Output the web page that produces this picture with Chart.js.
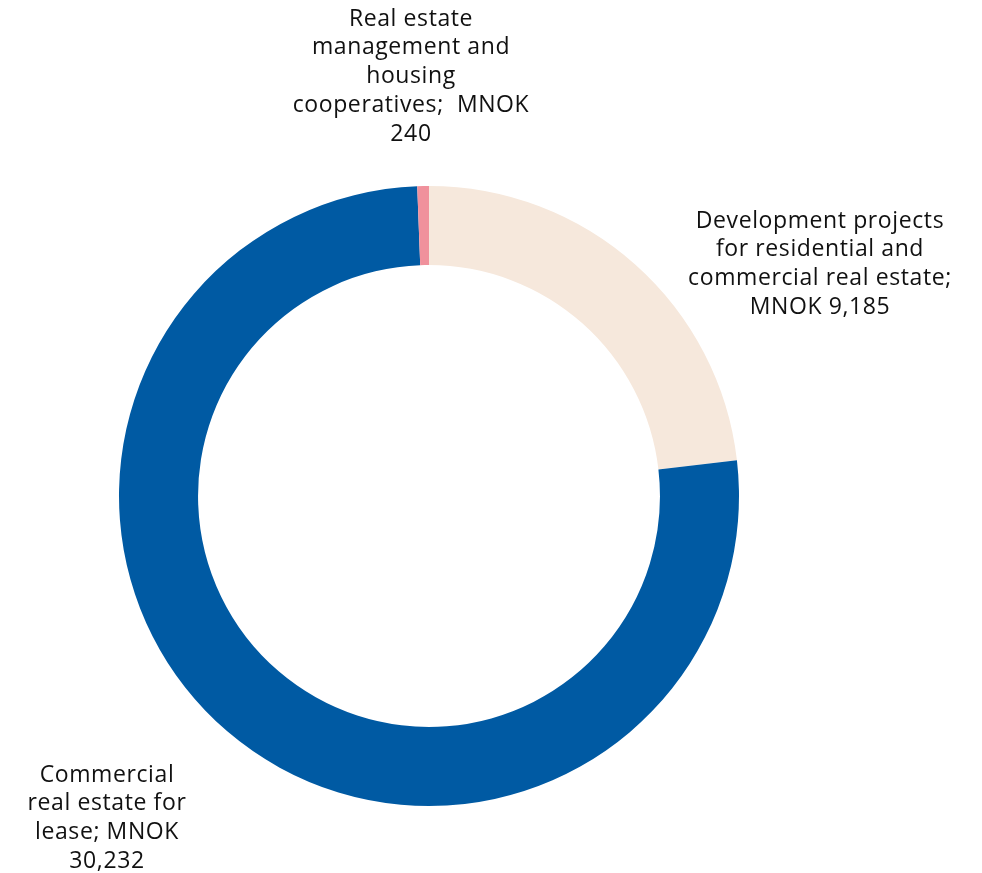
<!DOCTYPE html>
<html>
<head>
<meta charset="utf-8">
<script src="https://cdn.jsdelivr.net/npm/chart.js@4.4.0/dist/chart.umd.min.js"></script>
<style>
  html, body { margin: 0; padding: 0; background: #fff; }
  #wrap { width: 982px; height: 873px; }
</style>
</head>
<body>
<div id="wrap"><canvas id="grafico"></canvas></div>
<script>
// dados
const categorias = [
  'Development projects for residential and commercial real estate',
  'Commercial real estate for lease',
  'Real estate management and housing cooperatives'
];
const valores = [9185, 30232, 240];
const rotulos = [
  ['Development projects', 'for residential and', 'commercial real estate;', 'MNOK 9,185'],
  ['Commercial', 'real estate for', 'lease; MNOK', '30,232'],
  ['Real estate', 'management and', 'housing', 'cooperatives;  MNOK', '240']
];
const cores = ['#F6E8DC', '#005AA3', '#F0919C'];

// posicao dos rotulos (centro da primeira linha)
const posRotulos = [
  { x: 820, y: 221 },
  { x: 107, y: 775 },
  { x: 411, y: 19 }
];

const rotulosPlugin = {
  id: 'rotulos',
  afterDraw(chart) {
    const c = chart.ctx;
    c.save();
    c.font = '23px "Open Sans"';
    c.letterSpacing = '0.6px';
    c.fillStyle = '#111';
    c.textAlign = 'center';
    c.textBaseline = 'middle';
    rotulos.forEach((linhas, i) => {
      const p = posRotulos[i];
      linhas.forEach((l, j) => c.fillText(l, p.x, p.y + j * 28.8));
    });
    c.restore();
  }
};

const ctx = document.getElementById('grafico').getContext('2d');
new Chart(ctx, {
  type: 'doughnut',
  data: {
    labels: categorias,
    datasets: [{
      data: valores,
      backgroundColor: cores,
      borderWidth: 0
    }]
  },
  options: {
    responsive: true,
    maintainAspectRatio: false,
    animation: false,
    cutout: '74.5%',
    layout: { padding: { left: 119, right: 243, top: 186, bottom: 67 } },
    plugins: {
      legend: { display: false },
      tooltip: { enabled: false }
    }
  },
  plugins: [rotulosPlugin]
});
</script>
</body>
</html>
